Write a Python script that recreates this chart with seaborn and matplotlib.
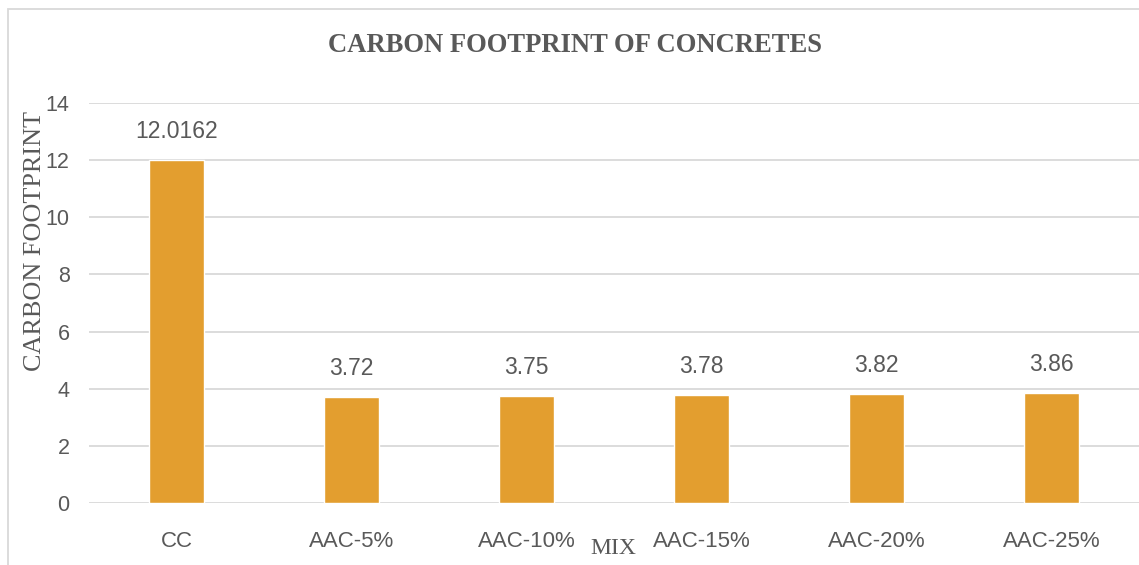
import matplotlib
matplotlib.use("Agg")
import matplotlib.pyplot as plt
import seaborn as sns
import pandas as pd
from matplotlib.patches import Rectangle

categories = ["CC", "AAC-5%", "AAC-10%", "AAC-15%", "AAC-20%", "AAC-25%"]
values = [12.0162, 3.72, 3.75, 3.78, 3.82, 3.86]
value_labels = ["12.0162", "3.72", "3.75", "3.78", "3.82", "3.86"]
y_ticks = [0, 2, 4, 6, 8, 10, 12, 14]

sns.set_theme(style="white")
plt.rcParams["font.family"] = ["Liberation Sans", "DejaVu Sans"]

TEXT = "#595959"
GRID = "#D9D9D9"
BAR = "#E39E2F"

W, H = 1139, 565
fig = plt.figure(figsize=(W / 100, H / 100), dpi=100)
ax = fig.add_axes([89 / W, (H - 503) / H, 1050 / W, 400 / H])

df = pd.DataFrame({"mix": categories, "cf": values})
sns.barplot(data=df, x="mix", y="cf", color=BAR, saturation=1, width=0.314, ax=ax)

ax.set_xlim(-0.5, 5.5)
ax.set_ylim(0, 14)
ax.set_yticks(y_ticks)
ax.set_yticklabels([str(t) for t in y_ticks])
ax.yaxis.grid(True, color=GRID, linewidth=1.3)
ax.set_axisbelow(True)
for s in ax.spines.values():
    s.set_visible(False)
ax.tick_params(axis="y", length=0, pad=14, labelsize=15.5, labelcolor=TEXT)
ax.tick_params(axis="x", length=0, pad=20, labelsize=16, labelcolor=TEXT)
ax.set_xlabel("")
ax.set_ylabel("")

for i, (v, lab) in enumerate(zip(values, value_labels)):
    ax.annotate(lab, (i, v), xytext=(0, 12), textcoords="offset points",
                ha="center", va="bottom", fontsize=16.5, color=TEXT)

serif = ["Liberation Serif", "DejaVu Serif"]
fig.text(575 / W, 1 - 46 / H, "CARBON FOOTPRINT OF CONCRETES", ha="center", va="center",
         fontsize=19.2, fontweight="bold", color=TEXT, family=serif)
fig.text(35 / W, 1 - 241 / H, "CARBON FOOTPRINT", ha="center", va="center", rotation=90,
         fontsize=18.8, color=TEXT, family=serif)
fig.text(613 / W, 1 - 549 / H, "MIX", ha="center", va="center",
         fontsize=17, color=TEXT, family=serif)

fig.patches.append(Rectangle((8 / W, -0.1), 1.2, 1 - 9 / H + 0.1, transform=fig.transFigure,
                             fill=False, edgecolor=GRID, linewidth=1.3))

fig.savefig("out.png", dpi=100, facecolor="white")
